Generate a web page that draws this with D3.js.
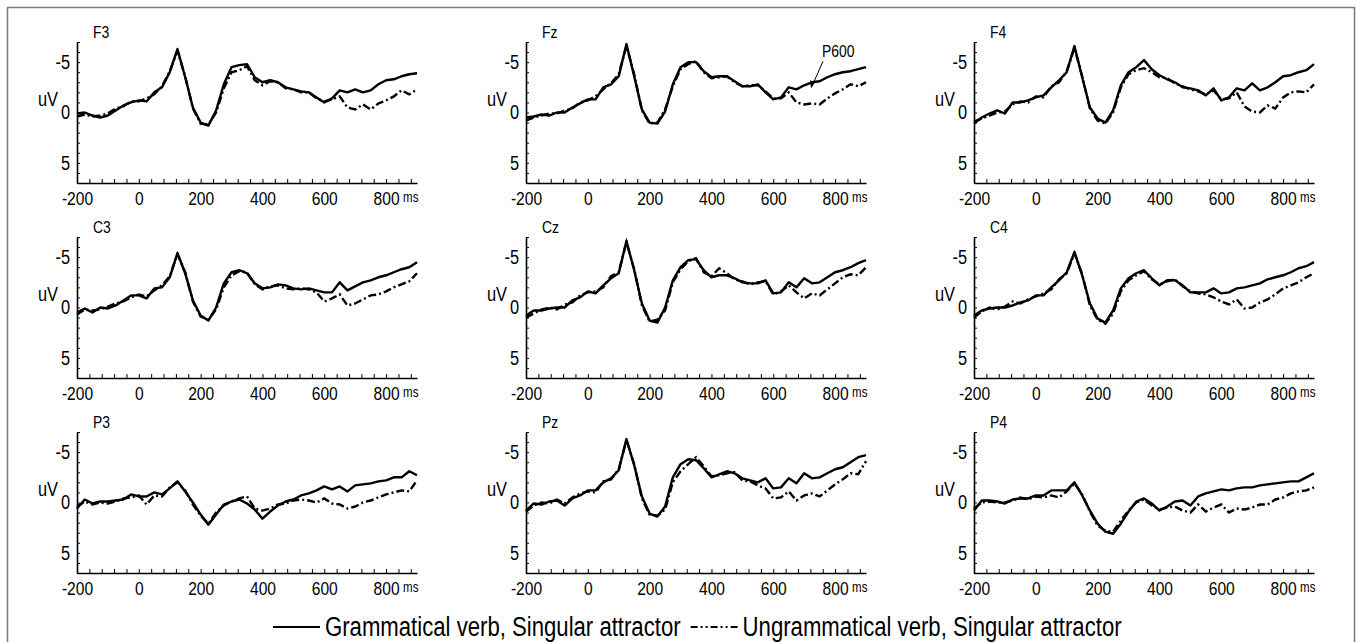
<!DOCTYPE html>
<html>
<head>
<meta charset="utf-8">
<script src="https://cdn.jsdelivr.net/npm/d3@7/dist/d3.min.js"></script>
<style>
  body { margin: 0; background: #fff; }
  svg { display: block; }
  text { font-family: "Liberation Sans", Arial, sans-serif; fill: #000; }
</style>
</head>
<body>
<svg id="chart" width="1357" height="642"></svg>
<script>
// sample times (ms) for every trace
const times = [
  -200, -175, -150, -125, -100, -75, -50, -25, 0,
  25, 50, 75, 100, 125, 150, 175, 200,
  225, 250, 275, 300, 325, 350, 375, 400,
  425, 450, 475, 500, 525, 550, 575, 600,
  625, 650, 675, 700, 725, 750, 775, 800,
  825, 850, 875, 900
];

const electrodes = ['F3', 'Fz', 'F4', 'C3', 'Cz', 'C4', 'P3', 'Pz', 'P4'];
const xTickLabels = [-200, 0, 200, 400, 600, 800];
const yTickLabels = [-5, 0, 5];
const legendLabels = ['Grammatical verb, Singular attractor', 'Ungrammatical verb, Singular attractor'];

// grammatical (solid) traces, uV
const gramF3 = [0.1, 0, 0.3, 0.5, 0.3, -0.2, -0.7, -1.0, -1.2,
  -1.1, -2.0, -2.5, -4.0, -6.3, -3.5, -0.5, 1.0,
  1.3, -0.2, -2.8, -4.5, -4.7, -4.8, -3.5, -3.0,
  -3.2, -3.0, -2.5, -2.3, -2.1, -2.0, -1.5, -1.0,
  -1.4, -2.2, -2.0, -2.3, -2.0, -2.2, -2.8, -3.2,
  -3.3, -3.6, -3.8, -3.9];
const gramFz = [0.5, 0.4, 0.2, 0.3, 0.0, 0.0, -0.5, -0.9, -1.3,
  -1.3, -2.5, -2.8, -3.6, -6.8, -3.6, -0.3, 1.0,
  1.1, -0.1, -2.8, -4.5, -5.0, -5.0, -4.1, -3.5,
  -3.6, -3.6, -3.1, -2.6, -2.6, -2.8, -2.0, -1.3,
  -1.5, -2.5, -2.3, -2.7, -3.0, -3.1, -3.5, -3.8,
  -4.0, -4.1, -4.3, -4.5];
const gramF4 = [1.1, 0.5, 0.1, -0.2, 0.1, -1.0, -1.0, -1.2, -1.5,
  -1.7, -2.5, -3.2, -4.0, -6.6, -3.5, -0.5, 0.6,
  1.0, -0.2, -2.7, -4.0, -4.5, -5.2, -4.3, -3.7,
  -3.3, -3.0, -2.5, -2.4, -2.2, -1.7, -2.4, -1.2,
  -1.5, -2.4, -2.2, -2.9, -2.2, -2.5, -3.0, -3.6,
  -3.7, -4.0, -4.2, -4.8];
const gramC3 = [0.5, 0.1, 0.5, 0.0, 0.1, -0.2, -0.7, -1.2, -1.2,
  -0.9, -1.9, -2.0, -3.0, -5.4, -3.4, -0.7, 0.8,
  1.3, 0.0, -2.4, -3.5, -3.7, -3.4, -2.4, -1.9,
  -2.0, -2.3, -2.2, -1.9, -1.8, -1.9, -1.7, -1.5,
  -1.5, -2.5, -1.7, -2.1, -2.5, -2.7, -3.0, -3.2,
  -3.5, -3.8, -4.0, -4.5];
const gramCz = [0.8, 0.3, 0.3, 0.1, 0.0, 0.0, -0.7, -1.0, -1.6,
  -1.4, -2.2, -2.9, -3.4, -6.6, -3.7, -0.4, 1.3,
  1.5, 0.0, -2.7, -4.0, -4.7, -4.8, -3.7, -3.0,
  -3.2, -3.2, -2.9, -2.5, -2.4, -2.4, -2.7, -1.4,
  -1.5, -2.5, -2.0, -2.9, -2.4, -2.5, -3.0, -3.5,
  -3.7, -4.0, -4.4, -4.7];
const gramC4 = [0.8, 0.3, 0.1, 0.0, 0.0, -0.2, -0.5, -0.7, -1.2,
  -1.2, -2.0, -2.7, -3.5, -5.5, -3.2, -0.4, 1.1,
  1.5, 0.3, -1.9, -2.9, -3.4, -3.7, -2.9, -2.2,
  -2.7, -2.7, -2.2, -1.5, -1.5, -1.5, -1.9, -1.4,
  -1.5, -1.9, -2.0, -2.2, -2.4, -2.8, -3.0, -3.2,
  -3.5, -3.9, -4.1, -4.5];
const gramP3 = [0.6, -0.3, 0.1, -0.1, -0.1, -0.2, -0.3, -0.8, -0.6,
  -0.6, -1.0, -0.8, -1.4, -2.1, -1.1, 0.0, 1.2,
  2.2, 1.2, 0.2, -0.1, -0.3, 0.1, 0.7, 1.6,
  0.9, 0.3, -0.1, -0.3, -0.7, -0.9, -1.2, -1.6,
  -1.3, -1.6, -1.1, -1.7, -1.8, -1.9, -2.1, -2.2,
  -2.5, -2.5, -3.1, -2.7];
const gramPz = [0.8, 0.1, 0.2, -0.1, -0.2, 0.3, -0.4, -0.7, -1.2,
  -1.2, -2.0, -2.4, -3.2, -6.3, -3.7, -0.6, 1.1,
  1.4, 0.4, -2.5, -3.8, -4.3, -4.2, -3.4, -2.5,
  -2.8, -3.1, -2.9, -2.4, -2.2, -2.0, -2.4, -1.4,
  -1.5, -2.4, -1.9, -2.9, -2.4, -2.5, -2.9, -3.3,
  -3.5, -4.0, -4.5, -4.7];
const gramP4 = [0.8, -0.2, -0.2, -0.1, 0.1, -0.3, -0.4, -0.4, -0.7,
  -0.7, -1.2, -1.2, -1.2, -2.0, -0.7, 0.8, 2.1,
  2.9, 3.1, 2.1, 0.9, -0.1, -0.4, 0.1, 0.8,
  0.4, -0.1, -0.2, 0.3, -0.6, -0.9, -1.1, -1.3,
  -1.2, -1.4, -1.5, -1.5, -1.7, -1.8, -1.9, -2.0,
  -2.1, -2.1, -2.5, -2.9];

// ungrammatical (dash-dot) traces, uV
const ungrF3 = [0.4, 0.2, 0.4, 0.3, 0.1, -0.4, -0.6, -1.1, -1.1,
  -1.4, -1.8, -2.6, -4.1, -6.1, -3.6, -0.4, 1.1,
  1.2, 0.0, -2.4, -4.0, -4.2, -4.6, -3.2, -2.7,
  -3.1, -3.0, -2.4, -2.3, -2.0, -2.0, -1.4, -1.1,
  -1.3, -1.6, -0.5, -0.3, -0.8, -0.3, -0.9, -1.2,
  -1.6, -2.2, -1.8, -2.3];
const ungrFz = [0.8, 0.5, 0.3, 0.1, 0.1, -0.2, -0.4, -1.0, -1.2,
  -1.6, -2.3, -2.9, -3.8, -6.6, -3.8, -0.2, 1.1,
  1.0, -0.3, -2.6, -4.3, -4.8, -5.1, -4.0, -3.4,
  -3.5, -3.6, -3.0, -2.6, -2.7, -2.7, -2.1, -1.4,
  -1.4, -2.0, -1.0, -0.8, -0.9, -0.8, -1.4, -1.9,
  -2.3, -2.8, -2.6, -3.0];
const ungrF4 = [0.9, 0.6, 0.3, 0.0, -0.1, -0.8, -1.1, -1.0, -1.6,
  -1.5, -2.6, -3.0, -4.1, -6.4, -3.6, -0.4, 0.8,
  1.1, 0.0, -2.5, -3.8, -4.2, -4.4, -4.0, -3.5,
  -3.4, -2.9, -2.6, -2.3, -2.1, -1.8, -2.2, -1.3,
  -1.4, -2.0, -0.6, -0.1, 0.0, -0.7, -0.4, -1.5,
  -2.0, -2.1, -2.0, -2.8];
const ungrC3 = [0.7, 0.2, 0.3, 0.2, -0.1, -0.4, -0.6, -1.0, -1.3,
  -1.1, -1.7, -2.2, -3.1, -5.3, -3.5, -0.6, 0.9,
  1.2, 0.2, -2.0, -3.2, -3.6, -3.5, -2.3, -1.8,
  -2.1, -2.2, -1.9, -1.8, -1.9, -1.8, -1.5, -0.6,
  -0.9, -1.3, -0.2, -0.4, -0.8, -1.2, -1.3, -1.6,
  -2.0, -2.3, -2.6, -3.4];
const ungrCz = [1.0, 0.6, 0.2, 0.0, 0.2, -0.3, -0.5, -1.2, -1.5,
  -1.6, -2.0, -3.1, -3.5, -6.5, -3.8, -0.2, 1.4,
  1.2, 0.3, -2.5, -3.8, -4.6, -4.9, -3.5, -3.1,
  -3.9, -3.4, -2.8, -2.6, -2.3, -2.5, -2.6, -1.3,
  -1.6, -2.2, -1.5, -0.9, -1.4, -1.2, -1.8, -2.4,
  -3.0, -3.3, -3.2, -4.0];
const ungrC4 = [1.0, 0.4, 0.0, 0.2, -0.1, -0.6, -0.4, -0.8, -1.1,
  -1.4, -1.8, -2.8, -3.4, -5.4, -3.3, -0.2, 1.2,
  1.6, 0.6, -1.6, -2.7, -3.2, -3.6, -2.8, -2.3,
  -2.6, -2.8, -2.1, -1.6, -1.4, -1.3, -1.0, -0.6,
  -0.3, -0.8, 0.1, 0.0, -0.5, -0.8, -1.3, -1.9,
  -2.2, -2.5, -3.0, -3.4];
const ungrP3 = [0.4, -0.1, 0.2, 0.0, 0.1, -0.1, -0.4, -0.5, -0.7,
  0.2, -0.7, -0.6, -1.5, -2.0, -1.2, 0.2, 1.3,
  2.1, 1.0, 0.3, -0.1, -0.4, -0.6, 0.6, 0.8,
  0.6, 0.2, 0.1, -0.2, -0.3, -0.2, 0.0, -0.4,
  0.1, 0.2, 0.6, 0.4, 0.0, -0.2, -0.5, -0.8,
  -1.0, -1.2, -1.1, -2.2];
const ungrPz = [0.9, 0.3, 0.0, 0.1, -0.3, 0.1, -0.5, -0.9, -1.1,
  -1.0, -2.1, -2.3, -3.3, -6.2, -3.8, -0.4, 1.2,
  1.3, 0.7, -2.0, -3.1, -3.8, -4.5, -3.6, -2.6,
  -2.7, -2.9, -3.0, -2.2, -2.1, -1.7, -1.4, -0.4,
  -0.5, -1.1, -0.2, -0.7, -0.9, -0.6, -1.2, -1.8,
  -2.3, -2.9, -2.8, -4.1];
const ungrP4 = [0.6, 0.0, -0.1, 0.0, 0.0, -0.2, -0.5, -0.3, -0.6,
  -0.5, -0.7, -0.5, -1.1, -1.9, -0.8, 0.9, 2.3,
  2.8, 2.9, 1.8, 0.8, 0.0, -0.3, 0.3, 0.7,
  0.5, 0.4, 0.8, 1.0, 0.2, 0.9, 0.5, 0.2,
  1.0, 0.6, 0.7, 0.5, 0.2, 0.2, -0.3, -0.5,
  -0.9, -1.1, -1.2, -1.5];

const grammatical = [gramF3, gramFz, gramF4, gramC3, gramCz, gramC4, gramP3, gramPz, gramP4];
const ungrammatical = [ungrF3, ungrFz, ungrF4, ungrC3, ungrCz, ungrC4, ungrP3, ungrPz, ungrP4];

// P600 annotation on Fz
const p600 = { panel: 1, t: 722, v: -2.4, label: 'P600' };

const svg = d3.select('#chart');
const colX = [77, 526, 974];
const rowY = [42, 237, 432];
const plotW = 340;
const plotH = 141;
const dashDot = '8,3,2,3';
const squeeze = 0.82; // no narrow font installed, so squeeze Liberation Sans

// fake a narrow face by shrinking each text to 82% of its width
function narrow(sel) {
  sel.each(function () {
    const len = this.getComputedTextLength();
    d3.select(this).attr('textLength', len * squeeze).attr('lengthAdjust', 'spacingAndGlyphs');
  });
}

svg.append('rect')
  .attr('x', 7.5).attr('y', 7.5)
  .attr('width', 1347).attr('height', 700)
  .attr('fill', 'none')
  .attr('stroke', '#7a7a7a')
  .attr('stroke-width', 1.5);

const x = d3.scaleLinear().domain([-200, 900]).range([0, plotW]);
const y = d3.scaleLinear().domain([-7, 7]).range([0, plotH]);

const line = d3.line()
  .x((d) => x(d[0]))
  .y((d) => y(d[1]));

electrodes.forEach((name, i) => {
  const g = svg.append('g')
    .attr('transform', `translate(${colX[i % 3]},${rowY[Math.floor(i / 3)]})`);

  // minor ticks on x, pointing up
  g.append('g')
    .attr('transform', `translate(0,${plotH})`)
    .call(d3.axisBottom(x).tickValues(d3.range(-200, 900, 40)).tickSizeInner(-4).tickSizeOuter(0).tickFormat(''))
    .call((a) => a.select('.domain').attr('stroke-width', 1.6));

  g.append('g')
    .attr('transform', `translate(0,${plotH})`)
    .call(d3.axisBottom(x).tickValues(xTickLabels).tickSize(0).tickPadding(9).tickFormat((d) => String(d)))
    .call((a) => a.select('.domain').remove())
    .call((a) => a.selectAll('text').attr('font-size', 19).style('font-family', null).call(narrow));

  // minor ticks on y, pointing right
  g.append('g')
    .call(d3.axisLeft(y).tickValues(d3.range(-7, 8, 1)).tickSizeInner(-3).tickSizeOuter(0).tickFormat(''))
    .call((a) => a.select('.domain').attr('stroke-width', 1.6));

  g.append('g')
    .call(d3.axisLeft(y).tickValues(yTickLabels).tickSize(0).tickPadding(7).tickFormat((d) => String(d)))
    .call((a) => a.select('.domain').remove())
    .call((a) => a.selectAll('text').attr('font-size', 20).style('font-family', null).call(narrow));

  g.append('text')
    .attr('x', x(855))
    .attr('y', plotH + 19)
    .attr('font-size', 14)
    .text('ms')
    .call(narrow);

  g.append('text')
    .attr('x', -19)
    .attr('y', y(0) - 7)
    .attr('text-anchor', 'end')
    .attr('font-size', 20)
    .text('uV')
    .call(narrow);

  g.append('text')
    .attr('x', 16)
    .attr('y', -4)
    .attr('font-size', 17)
    .text(name)
    .call(narrow);

  g.append('path')
    .datum(d3.zip(times, ungrammatical[i]))
    .attr('d', line)
    .attr('fill', 'none')
    .attr('stroke', '#000')
    .attr('stroke-width', 2.4)
    .attr('stroke-dasharray', dashDot);

  g.append('path')
    .datum(d3.zip(times, grammatical[i]))
    .attr('d', line)
    .attr('fill', 'none')
    .attr('stroke', '#000')
    .attr('stroke-width', 2.4)
    .attr('stroke-linejoin', 'round');

  if (i === p600.panel) {
    const tipX = x(p600.t);
    const tipY = y(p600.v);
    g.append('line')
      .attr('x1', tipX + 12).attr('y1', tipY - 27)
      .attr('x2', tipX + 1).attr('y2', tipY - 2)
      .attr('stroke', '#000')
      .attr('stroke-width', 1);
    g.append('path')
      .attr('d', `M${tipX},${tipY} l-1,-8 l5,2 z`)
      .attr('fill', '#000');
    g.append('text')
      .attr('x', tipX + 11)
      .attr('y', tipY - 31)
      .attr('font-size', 17)
      .text(p600.label)
      .call(narrow);
  }
});

// legend
const legend = svg.append('g').attr('transform', 'translate(273,627)');
let lx = 0;
legendLabels.forEach((label, i) => {
  legend.append('line')
    .attr('x1', lx).attr('x2', lx + 47)
    .attr('y1', 0).attr('y2', 0)
    .attr('stroke', '#000')
    .attr('stroke-width', 2)
    .attr('stroke-dasharray', i === 0 ? null : '7,3,2,3,2,3');
  const t = legend.append('text')
    .attr('x', lx + 52)
    .attr('y', 9)
    .attr('font-size', 27)
    .text(label)
    .call(narrow);
  // textLength is set, so this already returns the squeezed width
  lx += 52 + t.node().getComputedTextLength() + 10;
});
</script>
</body>
</html>
